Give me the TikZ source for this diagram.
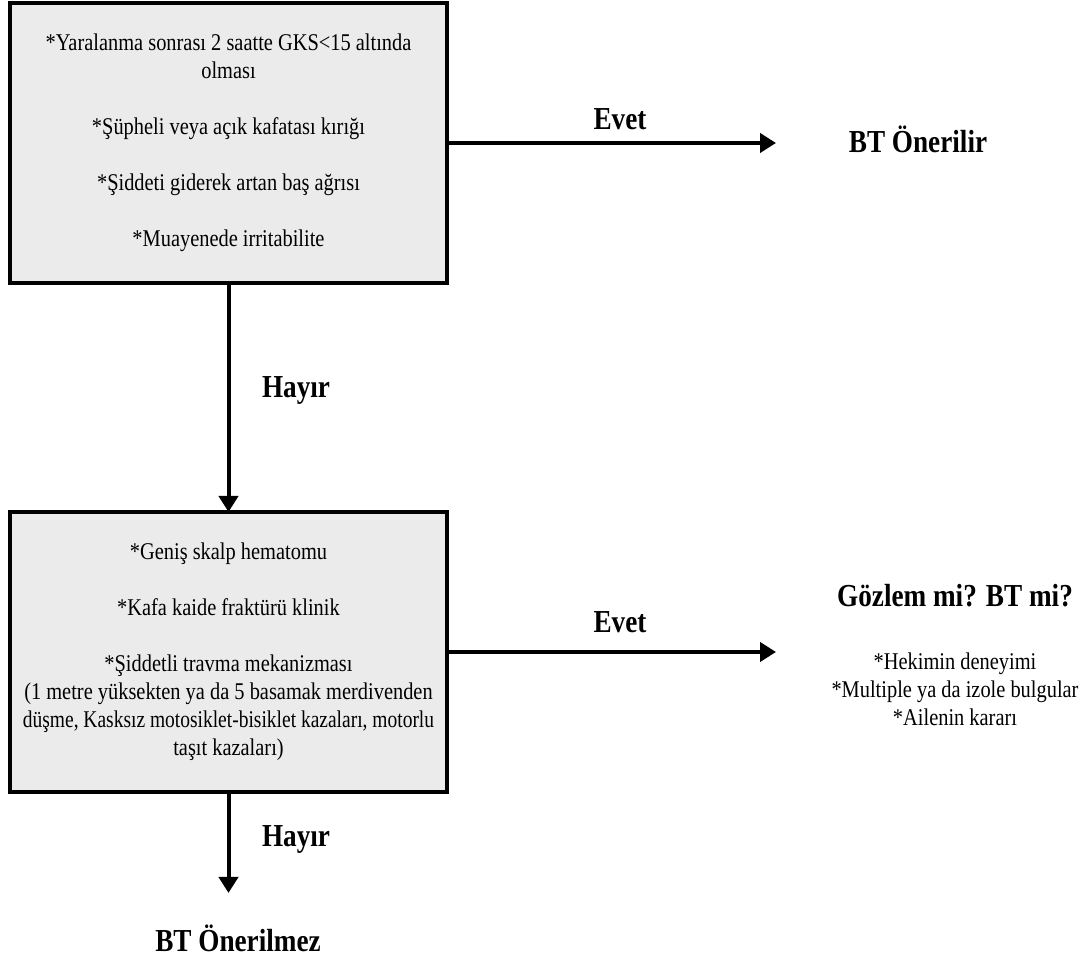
\documentclass[tikz,border=0pt]{standalone}
\usepackage{fontspec}
\setmainfont{Liberation Serif}[FakeStretch=0.85]
\usetikzlibrary{positioning, arrows.meta}

\begin{document}
\begin{tikzpicture}[x=1pt, y=1pt,
    critbox/.style={draw, fill=black!8, line width=4pt, minimum width=437pt, minimum height=280pt,
        align=center, inner sep=0pt, outer sep=0pt, font=\fontsize{24}{28}\selectfont},
    flow/.style={line width=4pt, -{Triangle[length=16pt, width=19pt]}},
    lbl/.style={font=\fontsize{32}{36}\selectfont\bfseries, inner sep=0pt},
    note/.style={font=\fontsize{24}{28}\selectfont, align=center, inner sep=0pt}]
    \useasboundingbox (0,0) rectangle (1081,960);

    \node[critbox] (crit1) at (228.5,817) {*Yaralanma sonrası 2 saatte GKS<15 altında\\ olması\\[28pt]
        *Şüpheli veya açık kafatası kırığı\\[28pt]
        *Şiddeti giderek artan baş ağrısı\\[28pt]
        *Muayenede irritabilite};
    \node[critbox] (crit2) [below=229pt of crit1] {*Geniş skalp hematomu\\[28pt]
        *Kafa kaide fraktürü klinik\\[28pt]
        *Şiddetli travma mekanizması\\
        (1 metre yüksekten ya da 5 basamak merdivenden\\
        \scalebox{0.955}[1]{düşme, Kasksız motosiklet-bisiklet kazaları, motorlu}\\
        taşıt kazaları)};

    \coordinate (yes1) at (776,817);
    \coordinate (yes2) at (776,308);
    \coordinate (no2) at (228.5,67);

    \node[lbl, anchor=base] (ctyes) at (918,807) {BT Önerilir};
    \node[lbl, anchor=base] (maybe) at (955,353) {Gözlem mi? BT mi?};
    \node[note, anchor=north] (why) at (955,307) {*Hekimin deneyimi\\ *Multiple ya da izole bulgular\\ *Ailenin kararı};
    \node[lbl, anchor=base] (ctno) at (238,8) {BT Önerilmez};

    \draw[flow] (crit1) -- (yes1) node[lbl, midway, anchor=base, xshift=8.5pt, yshift=13pt] {Evet};
    \draw[flow] (crit1) -- (crit2) node[lbl, midway, anchor=base west, xshift=31.5pt] {Hayır};
    \draw[flow] (crit2) -- (yes2) node[lbl, midway, anchor=base, xshift=8.5pt, yshift=19pt] {Evet};
    \draw[flow] (crit2) -- (no2) node[lbl, midway, anchor=base west, xshift=31.5pt, yshift=-4.5pt] {Hayır};
\end{tikzpicture}
\end{document}
